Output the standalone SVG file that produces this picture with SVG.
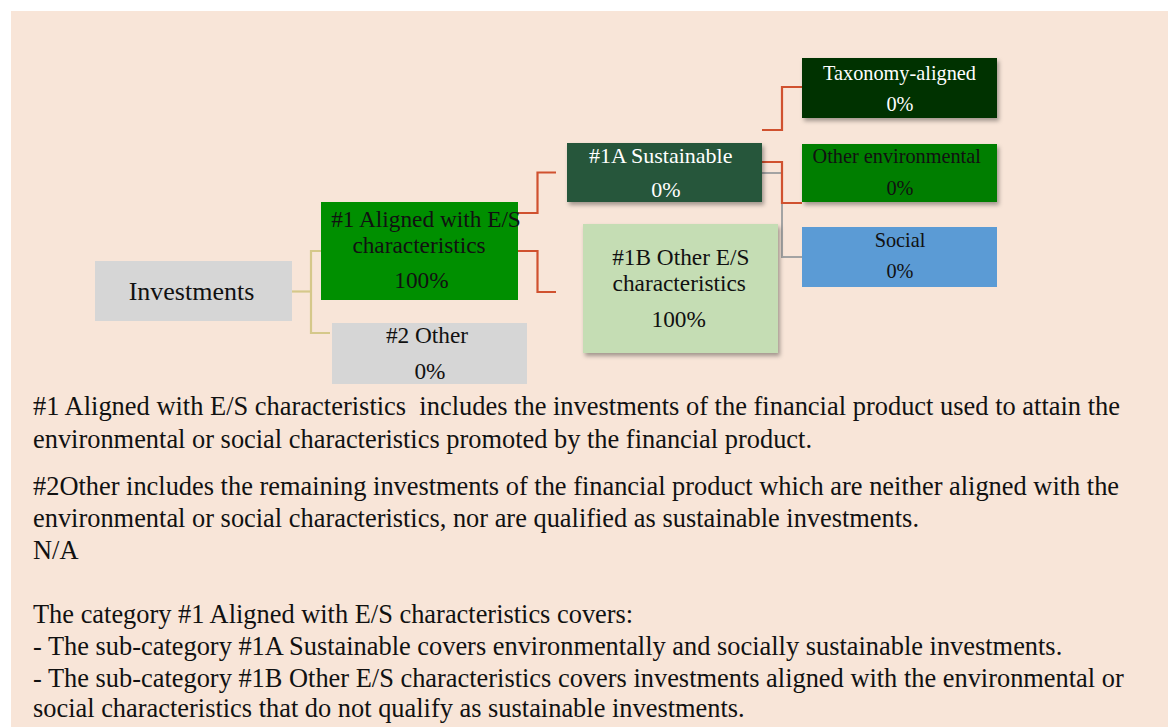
<svg xmlns="http://www.w3.org/2000/svg" width="1168" height="727" viewBox="0 0 1168 727">
<defs>
<filter id="sh" x="-10%" y="-10%" width="130%" height="140%">
<feDropShadow dx="2" dy="3" stdDeviation="2" flood-color="#000" flood-opacity="0.35"/>
</filter>
<style>
text{font-family:"Liberation Serif","Times New Roman",serif;fill:#111;}
.c{text-anchor:middle;}
.w{fill:#fff;}
.body{font-size:26.4px;}
.n23{font-size:23.3px;}
.n22{font-size:22px;}
.n20{font-size:20.3px;}
.red{stroke:#D0512F;stroke-width:2.2;fill:none;}
.gray{stroke:#A3A3A3;stroke-width:2;fill:none;}
.yel{stroke:#D5C88A;stroke-width:2.2;fill:none;}
</style>
</defs>
<rect x="0" y="0" width="1168" height="727" fill="#ffffff"/>
<rect x="11" y="11" width="1157" height="716" fill="#F8E5D8"/>

<g id="connectors">
<polyline class="yel" points="292,291.5 311,291.5"/>
<polyline class="yel" points="321,251 311,251 311,333 330,333"/>
<polyline class="red" points="518,213 537.5,213 537.5,172.5 556,172.5"/>
<polyline class="red" points="518,251 537.5,251 537.5,292 556,292"/>
<polyline class="gray" points="762,173 782,173 782,257 802,257"/>
<polyline class="red" points="762,130 782,130 782,87 802,87"/>
<polyline class="red" points="762,162 782,162 782,203 802,203"/>
</g>

<g id="investments">
<rect x="95" y="261" width="197" height="60" fill="#D6D6D6"/>
<text class="c" x="191.5" y="300" font-size="26">Investments</text>
</g>

<g id="aligned">
<rect x="321" y="202" width="197" height="98" fill="#008F00"/>
<text class="c n23" x="426" y="227.3">#1 Aligned with E/S</text>
<text class="c n23" x="419" y="252.7">characteristics</text>
<text class="c n23" x="421.5" y="288.3">100%</text>
</g>

<g id="other">
<rect x="332" y="323" width="195" height="61" fill="#D6D6D6"/>
<text class="c n23" x="427" y="343.3">#2 Other</text>
<text class="c n23" x="430" y="378.5">0%</text>
</g>

<g id="sustainable">
<rect x="567" y="143" width="195" height="59" fill="#25573A" filter="url(#sh)"/>
<text class="c n22 w" x="660.7" y="163.3">#1A Sustainable</text>
<text class="c n22 w" x="666" y="196.7">0%</text>
</g>

<g id="other-es">
<rect x="583" y="224" width="195" height="129" fill="#C5DDB4" filter="url(#sh)"/>
<text class="c n23" x="680.8" y="265">#1B Other E/S</text>
<text class="c n23" x="679.2" y="290.7">characteristics</text>
<text class="c n23" x="678.7" y="326.7">100%</text>
</g>

<g id="taxonomy">
<rect x="802" y="58" width="195" height="60" fill="#003300" filter="url(#sh)"/>
<text class="c n20 w" x="899.5" y="80">Taxonomy-aligned</text>
<text class="c n20 w" x="900" y="111">0%</text>
</g>

<g id="other-env">
<rect x="802" y="144" width="195" height="58" fill="#007E00" filter="url(#sh)"/>
<text class="c n20" x="896.7" y="163.3">Other environmental</text>
<text class="c n20" x="900" y="195">0%</text>
</g>

<g id="social">
<rect x="802" y="227" width="195" height="60" fill="#5B9BD5"/>
<text class="c n20" x="900" y="246.7">Social</text>
<text class="c n20" x="900" y="278.3">0%</text>
</g>

<g id="notes">
<text class="body" x="33" y="415" textLength="1087" lengthAdjust="spacingAndGlyphs" xml:space="preserve">#1 Aligned with E/S characteristics  includes the investments of the financial product used to attain the</text>
<text class="body" x="33" y="448">environmental or social characteristics promoted by the financial product.</text>
<text class="body" x="33" y="495">#2Other includes the remaining investments of the financial product which are neither aligned with the</text>
<text class="body" x="33" y="527">environmental or social characteristics, nor are qualified as sustainable investments.</text>
<text class="body" x="33" y="559">N/A</text>
<text class="body" x="33" y="622.7">The category #1 Aligned with E/S characteristics covers:</text>
<text class="body" x="33" y="655">- The sub-category #1A Sustainable covers environmentally and socially sustainable investments.</text>
<text class="body" x="33" y="687">- The sub-category #1B Other E/S characteristics covers investments aligned with the environmental or</text>
<text class="body" x="33" y="717">social characteristics that do not qualify as sustainable investments.</text>
</g>
</svg>
